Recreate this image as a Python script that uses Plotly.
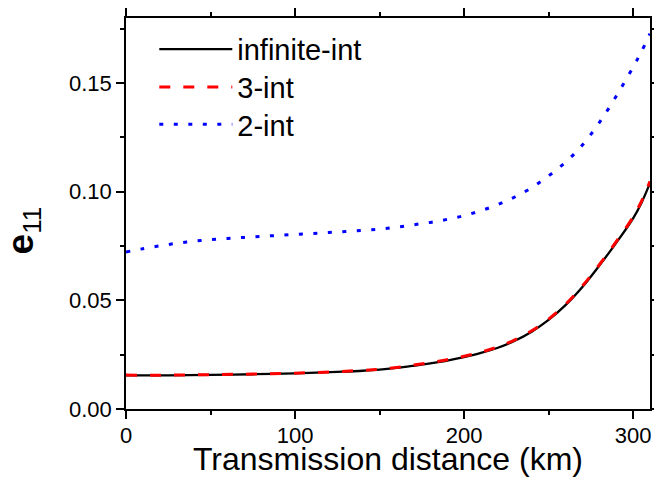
import plotly.graph_objects as go

# ---- data ----
dist_inf = [0, 25, 50, 75, 100, 125, 140, 150, 160, 170, 180, 190, 200, 210, 220, 230,
            240, 250, 260, 270, 280, 290, 300, 305, 310]
e11_inf = [0.0155, 0.0155, 0.0157, 0.0160, 0.0164, 0.0171, 0.0176, 0.0181, 0.0189,
           0.0199, 0.0210, 0.0223, 0.0239, 0.0258, 0.0282, 0.0314, 0.0356, 0.0410,
           0.0478, 0.0562, 0.0660, 0.0765, 0.0878, 0.0950, 0.1040]

dist_3 = [0, 25, 50, 75, 100, 125, 140, 150, 160, 170, 180, 190, 200, 210, 220, 230,
          240, 250, 260, 270, 280, 290, 300, 305, 310]
e11_3 = [0.0156, 0.0156, 0.0158, 0.0161, 0.0165, 0.0172, 0.0178, 0.0183, 0.0191,
         0.0202, 0.0213, 0.0227, 0.0243, 0.0262, 0.0286, 0.0318, 0.0360, 0.0414,
         0.0482, 0.0566, 0.0664, 0.0770, 0.0884, 0.0957, 0.1048]

dist_2 = [0, 10, 20, 30, 40, 50, 60, 70, 80, 90, 100, 110, 120, 130, 140, 150, 160,
          170, 180, 190, 200, 210, 220, 230, 240, 250, 260, 270, 280, 290, 300, 305, 310]
e11_2 = [0.0723, 0.0738, 0.0751, 0.0763, 0.0772, 0.0780, 0.0785, 0.0790, 0.0795,
         0.0799, 0.0804, 0.0808, 0.0813, 0.0817, 0.0822, 0.0828, 0.0837, 0.0848,
         0.0859, 0.0873, 0.0890, 0.0913, 0.0941, 0.0976, 0.1019, 0.1073, 0.1136,
         0.1215, 0.1318, 0.1440, 0.1574, 0.1646, 0.1728]

names = ["infinite-int", "3-int", "2-int"]
x_ticks = [0, 100, 200, 300]
y_ticks = [0.00, 0.05, 0.10, 0.15]

FONT = "Arial, Liberation Sans, sans-serif"

fig = go.Figure()
fig.add_trace(go.Scatter(x=dist_inf, y=e11_inf, mode="lines", name=names[0], legend="legend",
                         line=dict(color="black", width=2.3, shape="spline")))
fig.add_trace(go.Scatter(x=dist_3, y=e11_3, mode="lines", name=names[1], legend="legend2",
                         line=dict(color="#ff0000", width=3, dash="11px,13px", shape="spline")))
fig.add_trace(go.Scatter(x=dist_2, y=e11_2, mode="lines", name=names[2], legend="legend3",
                         line=dict(color="#0000ff", width=3, dash="4px,10.5px", shape="spline")))

axis_common = dict(
    showline=True, linecolor="black", linewidth=1.5, mirror="ticks",
    ticks="outside", ticklen=8, tickwidth=1.5, tickcolor="black",
    showgrid=False, zeroline=False, automargin=False,
    tickfont=dict(family=FONT, size=22, color="black"),
)

fig.update_xaxes(
    range=[0, 310], tickvals=x_ticks, ticktext=[str(v) for v in x_ticks],
    minor=dict(dtick=50, ticklen=4.5, tickwidth=1.5, tickcolor="black", ticks="outside"),
    ticklabelstandoff=-2,
    title=dict(text="Transmission distance (km)", font=dict(family=FONT, size=32, color="black"),
               standoff=9),
    **axis_common,
)
fig.update_yaxes(
    range=[0, 0.18], tickvals=y_ticks, ticktext=[f"{v:.2f}" for v in y_ticks],
    minor=dict(dtick=0.025, ticklen=4.5, tickwidth=1.5, tickcolor="black", ticks="outside"),
    **axis_common,
)

fig.add_annotation(
    text="<b>e</b><sub>11</sub>", xref="paper", yref="paper",
    x=-0.196, y=0.455, xanchor="center", yanchor="middle",
    textangle=-90, showarrow=False,
    font=dict(family=FONT, size=37, color="black"),
)

legend_common = dict(x=0.054, xanchor="left", yanchor="middle",
                     bgcolor="rgba(0,0,0,0)", borderwidth=0,
                     font=dict(family=FONT, size=29, color="black"),
                     itemwidth=73)

fig.update_layout(
    width=654, height=477,
    margin=dict(l=126, r=4, t=18, b=68),
    paper_bgcolor="white", plot_bgcolor="white",
    showlegend=True,
    legend=dict(y=0.920, **legend_common),
    legend2=dict(y=0.823, **legend_common),
    legend3=dict(y=0.728, **legend_common),
)

fig.write_html("out.html", config={"displayModeBar": False},
               post_script="document.body.style.margin='0';")
